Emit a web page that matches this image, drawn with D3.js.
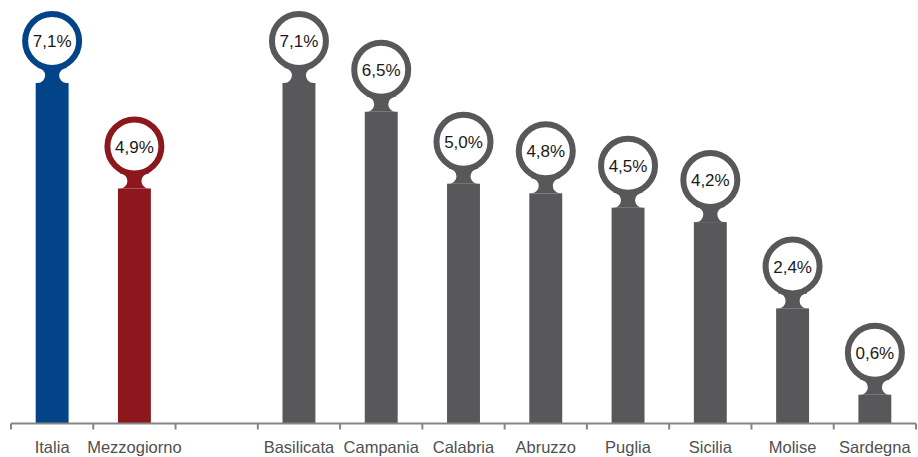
<!DOCTYPE html>
<html>
<head>
<meta charset="utf-8">
<script src="https://cdn.jsdelivr.net/npm/d3@7"></script>
<style>
  html, body { margin: 0; padding: 0; background: #fff; }
  svg { display: block; }
  text { font-family: "Liberation Sans", Arial, sans-serif; }
</style>
</head>
<body>
<svg id="chart" width="918" height="457"></svg>
<script>
const categories = ["Italia", "Mezzogiorno", "", "Basilicata", "Campania", "Calabria", "Abruzzo", "Puglia", "Sicilia", "Molise", "Sardegna"];
const values = [7.1, 4.9, null, 7.1, 6.5, 5.0, 4.8, 4.5, 4.2, 2.4, 0.6];
const labels = ["7,1%", "4,9%", "", "7,1%", "6,5%", "5,0%", "4,8%", "4,5%", "4,2%", "2,4%", "0,6%"];
const colors = ["#034488", "#8C181D", null, "#58585A", "#58585A", "#58585A", "#58585A", "#58585A", "#58585A", "#58585A", "#58585A"];

const svg = d3.select("#chart");
const baseY = 423.5;
const x = d3.scaleBand().domain(d3.range(categories.length)).range([11, 916]).paddingInner(0.6).paddingOuter(0.3);
const y = d3.scaleLinear().domain([0, 7.1]).range([baseY, 83]);

const R = 27, SW = 6, neck = 12, cut = 7.5, half = 14.5;

const data = categories.map((c, i) => ({c, v: values[i], l: labels[i], col: colors[i], i})).filter(d => d.v !== null);

const g = svg.append("g");
data.forEach(d => {
  const cx = x(d.i) + x.bandwidth() / 2;
  const top = y(d.v);
  const cy = top - neck - (R + SW / 2);
  g.append("rect").attr("x", x(d.i)).attr("y", top).attr("width", x.bandwidth()).attr("height", baseY - top).attr("fill", d.col);
  const p = `M${cx - half},${top} A${cut},${cut} 0 0 0 ${cx - half},${top - 2 * cut} L${cx - half},${cy} L${cx + half},${cy} L${cx + half},${top - 2 * cut} A${cut},${cut} 0 0 0 ${cx + half},${top} Z`;
  g.append("path").attr("d", p).attr("fill", d.col);
  g.append("circle").attr("cx", cx).attr("cy", cy).attr("r", R).attr("fill", "#fff").attr("stroke", d.col).attr("stroke-width", SW);
  g.append("text").attr("x", cx).attr("y", cy).attr("dy", "0.36em").attr("text-anchor", "middle")
    .attr("font-size", 17).attr("fill", "#1a1a1a").text(d.l);
});

const axis = svg.append("g");
axis.append("line").attr("x1", 11).attr("x2", 916).attr("y1", baseY).attr("y2", baseY).attr("stroke", "#858585").attr("stroke-width", 2);
const tickXs = categories.map((c, i) => x(i) - x.step() * x.paddingOuter()).concat([916]);
axis.selectAll("line.tick").data(tickXs).enter().append("line").attr("class", "tick")
  .attr("x1", d => d).attr("x2", d => d).attr("y1", baseY).attr("y2", baseY + 6).attr("stroke", "#858585").attr("stroke-width", 2);
axis.selectAll("text.lab").data(categories).enter().append("text").attr("class", "lab")
  .attr("x", (d, i) => x(i) + x.bandwidth() / 2).attr("y", 453).attr("text-anchor", "middle")
  .attr("font-size", 16.5).attr("fill", "#505050").text(d => d);
</script>
</body>
</html>
